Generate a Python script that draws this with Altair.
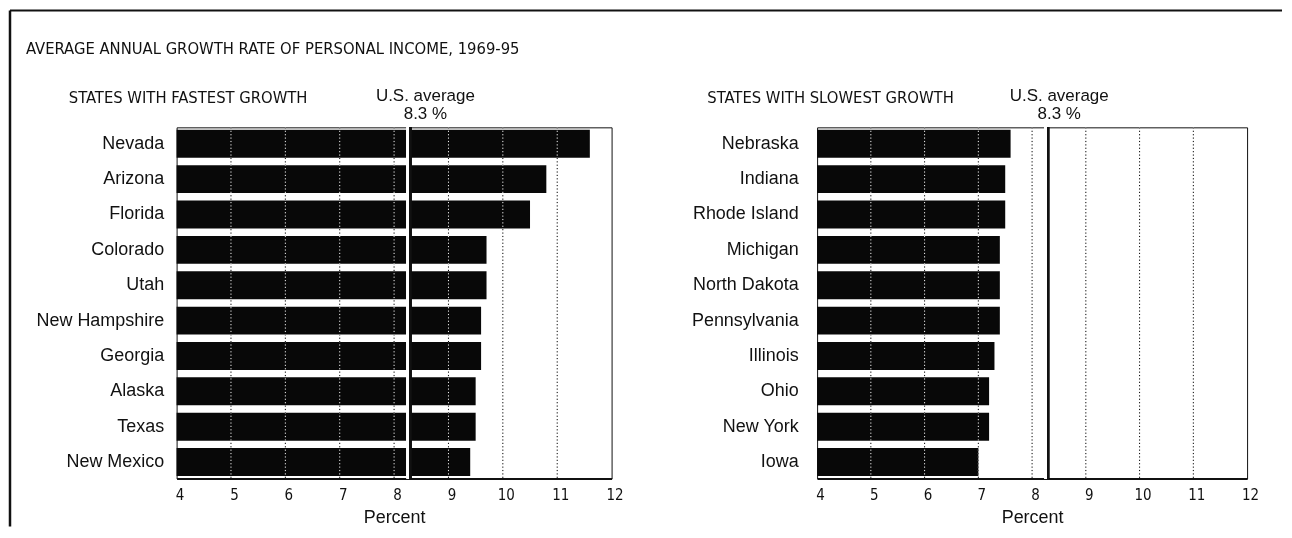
import altair as alt
import pandas as pd

TITLE = "AVERAGE ANNUAL GROWTH RATE OF PERSONAL INCOME, 1969-95"

FAST_HEAD = "STATES WITH FASTEST GROWTH"
FAST_STATES = ["Nevada", "Arizona", "Florida", "Colorado", "Utah",
               "New Hampshire", "Georgia", "Alaska", "Texas", "New Mexico"]
FAST_VALUES = [11.6, 10.8, 10.5, 9.7, 9.7, 9.6, 9.6, 9.5, 9.5, 9.4]

SLOW_HEAD = "STATES WITH SLOWEST GROWTH"
SLOW_STATES = ["Nebraska", "Indiana", "Rhode Island", "Michigan", "North Dakota",
               "Pennsylvania", "Illinois", "Ohio", "New York", "Iowa"]
SLOW_VALUES = [7.6, 7.5, 7.5, 7.4, 7.4, 7.4, 7.3, 7.2, 7.2, 7.0]

US_AVERAGE = 8.3
AVG_LINE1 = "U.S. average"
AVG_LINE2 = "8.3 %"

X_TICKS = [4, 5, 6, 7, 8, 9, 10, 11, 12]
GRID_TICKS = [5, 6, 7, 8, 9, 10, 11]
X_DOMAIN = [4, 12]
X_TITLE = "Percent"

SANS = "Liberation Sans, Arial, Helvetica, sans-serif"
COND = "DejaVu Sans Condensed, Liberation Sans Narrow, sans-serif"
NARROW = "Liberation Sans Narrow, Arial Narrow, DejaVu Sans Condensed, sans-serif"


def panel(states, values, head, width, label_pad, avg_dx, with_frame):
    df = pd.DataFrame({"state": states, "value": values})
    xscale = alt.Scale(domain=X_DOMAIN, zero=False, nice=False)
    yscale = alt.Scale(paddingInner=0.21, paddingOuter=0.07)

    base = alt.Chart(df)
    bars = base.mark_bar(color="#080808").encode(
        y=alt.Y("state:N", sort=states, scale=yscale,
                axis=alt.Axis(title=None, ticks=False, domain=False,
                              labelFont=SANS, labelFontSize=18,
                              labelColor="#111", labelPadding=label_pad,
                              labelLimit=300)),
        x=alt.X("value:Q", scale=xscale,
                axis=alt.Axis(values=X_TICKS, format="d", grid=False,
                              ticks=False, domainColor="#111", domainWidth=2,
                              labelFont=NARROW, labelFontSize=15,
                              labelColor="#111", labelPadding=9, labelOffset=3,
                              labelFlush=False,
                              title=X_TITLE, titleFont=SANS, titleFontSize=18,
                              titleFontWeight="normal", titleColor="#111",
                              titlePadding=6)),
        x2=alt.datum(X_DOMAIN[0]),
    )

    halo = base.mark_rule(color="white", strokeWidth=2.5, xOffset=-2.5).encode(
        x=alt.datum(US_AVERAGE))
    avg = base.mark_rule(color="#111", strokeWidth=1.8).encode(
        x=alt.datum(US_AVERAGE))

    grid = alt.Chart(pd.DataFrame({"g": GRID_TICKS})).mark_rule(
        color="white", strokeDash=[1.2, 2.2], strokeWidth=1, blend="difference"
    ).encode(x=alt.X("g:Q", scale=xscale))

    one = pd.DataFrame({"t": [head]})
    head_txt = alt.Chart(one).mark_text(
        align="left", baseline="alphabetic", font=COND, fontSize=16.5,
        color="#111").encode(
        text="t:N", x=alt.value(-108 if with_frame else -110), y=alt.value(-24))

    avg1 = alt.Chart(pd.DataFrame({"t": [AVG_LINE1]})).mark_text(
        align="center", baseline="alphabetic", font=SANS, fontSize=17,
        color="#111", dx=avg_dx).encode(
        text="t:N", x=alt.datum(US_AVERAGE), y=alt.value(-26))
    avg2 = alt.Chart(pd.DataFrame({"t": [AVG_LINE2]})).mark_text(
        align="center", baseline="alphabetic", font=SANS, fontSize=17,
        color="#111", dx=avg_dx).encode(
        text="t:N", x=alt.datum(US_AVERAGE), y=alt.value(-8))

    layers = [bars, halo, avg, grid, head_txt, avg1, avg2]

    if with_frame:
        title_txt = alt.Chart(pd.DataFrame({"t": [TITLE]})).mark_text(
            align="left", baseline="alphabetic", font=COND, fontSize=16.5,
            color="#111").encode(
            text="t:N", x=alt.value(-151), y=alt.value(-74))
        frame = alt.Chart(pd.DataFrame({"k": [0]}))
        left_border = frame.mark_rule(color="#111", strokeWidth=2.5).encode(
            x=alt.value(-167), y=alt.value(-117), y2=alt.value(400))
        top_border = frame.mark_rule(color="#111", strokeWidth=2).encode(
            x=alt.value(-167), x2=alt.value(1108), y=alt.value(-117))
        layers += [title_txt, left_border, top_border]

    return alt.layer(*layers).properties(width=width, height=352)


left = panel(FAST_STATES, FAST_VALUES, FAST_HEAD, 436, 13, 15, True)
right = panel(SLOW_STATES, SLOW_VALUES, SLOW_HEAD, 431, 19, 11, False)

chart = alt.hconcat(left, right, spacing=206, bounds="flush").properties(
    padding=0, background="white"
).configure_view(stroke="#111", strokeWidth=1)

chart.save("out.html", embed_options={"renderer": "svg", "actions": False})
